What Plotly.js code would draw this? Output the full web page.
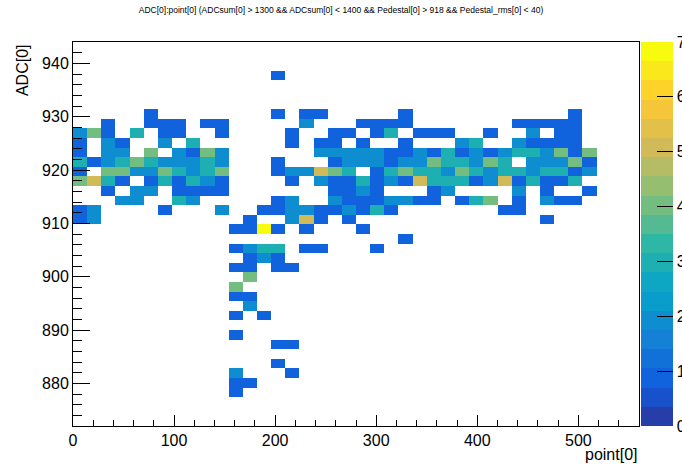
<!DOCTYPE html>
<html>
<head>
<meta charset="utf-8">
<script src="https://cdn.plot.ly/plotly-3.0.1.min.js"></script>
<style>
  html, body { margin: 0; padding: 0; background: #ffffff; }
  #chart { width: 682px; height: 464px; }
</style>
</head>
<body>
<div id="chart"></div>
<script>
// Bin centres of point[0] (40 bins, 0..560)
const xCenters = [7,21,35,49,63,77,91,105,119,133,147,161,175,189,203,217,231,245,259,273,
                  287,301,315,329,343,357,371,385,399,413,427,441,455,469,483,497,511,525,539,553];
// Bin centres of ADC[0] (40 bins, 872..944), bottom to top
const yCenters = [872.9,874.7,876.5,878.3,880.1,881.9,883.7,885.5,887.3,889.1,
                  890.9,892.7,894.5,896.3,898.1,899.9,901.7,903.5,905.3,907.1,
                  908.9,910.7,912.5,914.3,916.1,917.9,919.7,921.5,923.3,925.1,
                  926.9,928.7,930.5,932.3,934.1,935.9,937.7,939.5,941.3,943.1];
// Entries per cell, one string per ADC row from TOP (943.1) to BOTTOM (872.9);
// each character is one point[0] bin, '.' = empty
const countRows = [
  ".......... .......... .......... ..........",
  ".......... .......... .......... ..........",
  ".......... .......... .......... ..........",
  ".......... ....1..... .......... ..........",
  ".......... .......... .......... ..........",
  ".......... .......... .......... ..........",
  ".......... .......... .......... ..........",
  ".....1.... ....1.11.. ...1...... .....1....",
  "..1..111.1 1.....2... 1111...... .11111....",
  "241.3.11.. 1....1..11 .13.111..1 ..2.11....",
  "1.21..2.3. .....1.11. 1..1...23. .21111....",
  "1.22.4.214 2......222 2211213121 2332414...",
  "3123432223 2...1...12 2212243324 3.22241...",
  "1.44224323 4...122543 .134332432 3323312...",
  "4531.13132 1....1.211 3121533312 513113....",
  "..1.22.111 1.......11 21...12... .2.1..1...",
  "...22..32. ....12..21 112211.134 .1.211....",
  "12....1... 2..1122112 131....... 11........",
  "12........ ..1..251.1 .......... ...1......",
  ".......... .1171.1... 1......... ..........",
  ".......... .......... ...1...... ..........",
  ".......... .1233.11.. .1........ ..........",
  ".......... ..121..... .......... ..........",
  ".......... .11.11.... .......... ..........",
  ".......... ..4....... .......... ..........",
  ".......... .4........ .......... ..........",
  ".......... .11....... .......... ..........",
  ".......... ..2....... .......... ..........",
  ".......... .1.1...... .......... ..........",
  ".......... .......... .......... ..........",
  ".......... .1........ .......... ..........",
  ".......... ....11.... .......... ..........",
  ".......... .......... .......... ..........",
  ".......... ....1..... .......... ..........",
  ".......... .2...1.... .......... ..........",
  ".......... .11....... .......... ..........",
  ".......... .1........ .......... ..........",
  ".......... .......... .......... ..........",
  ".......... .......... .......... ..........",
  ".......... .......... .......... .........."
];
const zTicks = [0,1,2,3,4,5,6,7];
const xTicks = [0,100,200,300,400,500];
const yTicks = [880,890,900,910,920,930,940];

// ROOT kBird palette, 20 contour levels
const birdColors = [
  "rgb(39,61,168)","rgb(23,81,203)","rgb(16,99,220)","rgb(18,113,217)","rgb(20,128,214)",
  "rgb(14,142,209)","rgb(9,157,204)","rgb(13,167,195)","rgb(30,175,179)","rgb(46,183,164)",
  "rgb(83,186,145)","rgb(116,189,128)","rgb(150,190,113)","rgb(180,189,101)","rgb(209,187,89)",
  "rgb(227,192,74)","rgb(245,198,58)","rgb(253,211,42)","rgb(251,232,28)","rgb(249,251,14)"
];
const colorscale = [];
birdColors.forEach((c, i) => {
  colorscale.push([i / birdColors.length, c]);
  colorscale.push([(i + 1) / birdColors.length, c]);
});

const z = countRows.slice().reverse().map(row =>
  row.replace(/ /g, "").split("").map(ch => ch === "." ? null : Number(ch))
);

const font = "Liberation Sans, Arial, Helvetica, sans-serif";

const trace = {
  type: "heatmap",
  x: xCenters,
  y: yCenters,
  z: z,
  zmin: 0,
  zmax: 7,
  colorscale: colorscale,
  hoverongaps: false,
  colorbar: {
    x: 1.0035, xanchor: "left", xref: "paper",
    y: 0.5, yanchor: "middle", len: 1, lenmode: "fraction",
    thickness: 32, thicknessmode: "pixels",
    xpad: 0, ypad: 0,
    outlinewidth: 0,
    tickmode: "array", tickvals: zTicks, ticktext: zTicks.map(String),
    ticks: "inside", ticklen: 16, tickcolor: "#000", tickwidth: 1,
    tickfont: { family: font, size: 16, color: "#000" }
  }
};

const layout = {
  width: 682, height: 464,
  margin: { l: 73, r: 43, t: 42, b: 38, autoexpand: false },
  paper_bgcolor: "#fff", plot_bgcolor: "#fff",
  showlegend: false,
  title: {
    text: "ADC[0]:point[0] (ADCsum[0] > 1300 && ADCsum[0] < 1400 && Pedestal[0] > 918 && Pedestal_rms[0] < 40)",
    font: { family: font, size: 8.5, color: "#000" },
    x: 0.5, xref: "container", xanchor: "center",
    y: 0.978, yref: "container", yanchor: "middle"
  },
  xaxis: {
    range: [0, 560], autorange: false,
    tickmode: "array", tickvals: xTicks, ticktext: xTicks.map(String),
    ticks: "inside", ticklen: 11, tickcolor: "#000", tickwidth: 1,
    minor: { dtick: 20, tick0: 0, ticks: "inside", ticklen: 6, tickcolor: "#000", showgrid: false },
    showgrid: false, zeroline: false,
    showline: true, linecolor: "#000", linewidth: 1, mirror: true,
    tickfont: { family: font, size: 16, color: "#000" }
  },
  yaxis: {
    range: [872, 944], autorange: false,
    tickmode: "array", tickvals: yTicks, ticktext: yTicks.map(String),
    ticks: "inside", ticklen: 17, tickcolor: "#000", tickwidth: 1,
    minor: { dtick: 2, tick0: 872, ticks: "inside", ticklen: 9, tickcolor: "#000", showgrid: false },
    showgrid: false, zeroline: false,
    showline: true, linecolor: "#000", linewidth: 1, mirror: true,
    tickfont: { family: font, size: 16, color: "#000" }
  },
  annotations: [
    {
      text: "ADC[0]", xref: "paper", yref: "paper",
      x: -0.09, y: 1, xanchor: "center", yanchor: "top",
      textangle: -90, showarrow: false,
      font: { family: font, size: 16, color: "#000" }
    },
    {
      text: "point[0]", xref: "paper", yref: "paper",
      x: 1, y: -0.075, xanchor: "right", yanchor: "middle",
      showarrow: false,
      font: { family: font, size: 16, color: "#000" }
    }
  ]
};

Plotly.newPlot("chart", [trace], layout, { staticPlot: true, displayModeBar: false });
</script>
</body>
</html>
